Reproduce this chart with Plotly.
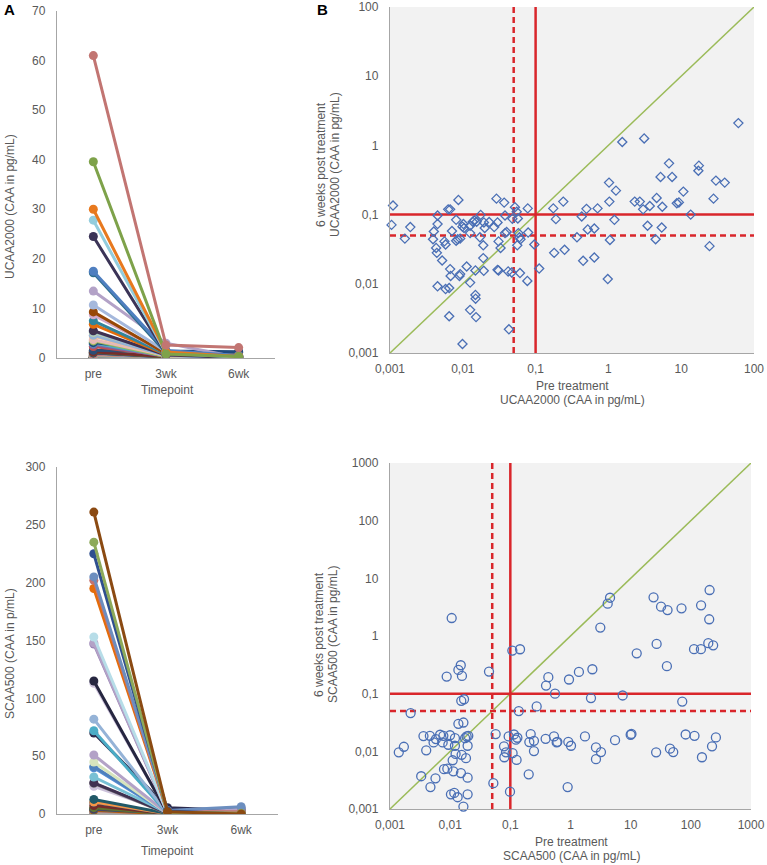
import plotly.graph_objects as go

# ---- data ----
timepoints = ["pre", "3wk", "6wk"]

# UCAA2000, one value per subject (sorted by pre-treatment value)
ucaa_pre = [61.0, 39.6, 30.0, 27.8, 24.5, 17.5, 17.2, 13.5, 10.7, 9.3,
            8.7, 7.5, 6.8, 5.5, 5.4, 5.2, 4.6, 4.45, 3.7, 3.45,
            3.1, 3.0, 2.7, 2.3, 1.55, 1.27, 1.21, 1.05, 1.03, 1.02,
            0.98, 0.71, 0.64, 0.64, 0.52, 0.50, 0.45, 0.43, 0.37, 0.25,
            0.24, 0.19, 0.18, 0.175, 0.112, 0.096, 0.079, 0.078, 0.077, 0.062,
            0.061, 0.060, 0.058, 0.057, 0.056, 0.055, 0.052, 0.048, 0.047, 0.043,
            0.042, 0.040, 0.038, 0.038, 0.037, 0.033, 0.031, 0.031, 0.030, 0.030,
            0.029, 0.027, 0.023, 0.020, 0.0195, 0.0194, 0.0191, 0.0191, 0.0176, 0.0172,
            0.0155, 0.0152, 0.0150, 0.0149, 0.0149, 0.0144, 0.0137, 0.0126, 0.0126, 0.0126,
            0.0126, 0.0113, 0.0104, 0.0102, 0.0099, 0.0099, 0.0092, 0.0092, 0.0090, 0.0087,
            0.0085, 0.0081, 0.0081, 0.0071, 0.0068, 0.0067, 0.0067, 0.0065, 0.0065, 0.0063,
            0.0058, 0.0058, 0.0056, 0.0052, 0.0045, 0.0045, 0.0045, 0.0044, 0.0043, 0.0040,
            0.0039, 0.0019, 0.0016, 0.0011, 0.00105]
ucaa_3wk = [2.6, 0.8, 1.2, 1.0, 0.9, 1.5, 1.1, 3.0, 1.3, 0.9,
            1.0, 0.8, 0.7, 0.6, 0.5, 0.7, 0.5, 0.4, 0.5, 0.3,
            1.4, 0.4, 0.3, 0.5, 1.2, 0.3, 0.2, 0.2, 0.3, 0.4,
            0.1, 0.2, 0.15, 0.1, 0.12, 0.2, 0.08, 0.15, 0.1, 0.06,
            0.2, 0.1, 0.05, 0.15, 0.04, 0.05, 0.06, 0.1, 0.03, 0.05,
            0.03, 0.05, 0.05, 0.07, 0.04, 0.08, 0.09, 0.06, 0.02, 0.01,
            0.02, 0.05, 0.07, 0.04, 0.1, 0.03, 0.04, 0.02, 0.05, 0.02,
            0.1, 0.05, 0.05, 0.04, 0.05, 0.02, 0.03, 0.02, 0.06, 0.03,
            0.05, 0.005, 0.008, 0.015, 0.008, 0.05, 0.05, 0.03, 0.04, 0.01,
            0.005, 0.015, 0.04, 0.05, 0.04, 0.003, 0.03, 0.01, 0.01, 0.08,
            0.03, 0.05, 0.03, 0.04, 0.01, 0.07, 0.01, 0.008, 0.004, 0.07,
            0.008, 0.03, 0.03, 0.015, 0.06, 0.05, 0.008, 0.02, 0.02, 0.04,
            0.03, 0.04, 0.03, 0.08, 0.05]
ucaa_6wk = [2.1, 0.29, 0.31, 0.17, 0.035, 0.51, 0.43, 0.10, 0.215, 0.15,
            0.146, 0.35, 0.55, 0.13, 0.065, 0.35, 0.174, 0.044, 0.133, 0.069,
            1.26, 0.119, 0.154, 0.154, 1.12, 0.222, 0.084, 0.043, 0.154, 0.29,
            0.0117, 0.123, 0.063, 0.024, 0.061, 0.121, 0.0215, 0.094, 0.047, 0.031,
            0.154, 0.086, 0.028, 0.123, 0.0166, 0.037, 0.055, 0.123, 0.011, 0.044,
            0.0143, 0.047, 0.054, 0.088, 0.036, 0.110, 0.128, 0.087, 0.0146, 0.0022,
            0.0151, 0.056, 0.097, 0.054, 0.149, 0.033, 0.041, 0.0156, 0.077, 0.0159,
            0.170, 0.066, 0.078, 0.064, 0.077, 0.0154, 0.036, 0.0235, 0.099, 0.047,
            0.079, 0.0033, 0.0061, 0.0156, 0.0069, 0.082, 0.079, 0.054, 0.069, 0.0104,
            0.0042, 0.0178, 0.064, 0.073, 0.067, 0.00135, 0.045, 0.0138, 0.0130, 0.163,
            0.044, 0.084, 0.042, 0.058, 0.0130, 0.119, 0.0163, 0.0087, 0.0034, 0.119,
            0.0084, 0.037, 0.041, 0.0217, 0.097, 0.073, 0.0092, 0.028, 0.033, 0.057,
            0.044, 0.066, 0.045, 0.135, 0.071]

# SCAA500
scaa_pre = [261, 235, 225, 205, 202, 195, 153, 148, 147, 115,
            113, 82, 72, 70, 51, 45, 41, 40, 32, 27,
            26.5, 24, 12.6, 10.3, 10.0, 7.36, 5.5, 4.54, 4.15, 3.21,
            3.13, 2.65, 2.65, 2.31, 2.19, 1.74, 1.38, 1.02, 0.944, 0.920,
            0.897, 0.604, 0.589, 0.553, 0.532, 0.428, 0.392, 0.386, 0.274, 0.247,
            0.247, 0.218, 0.207, 0.202, 0.145, 0.138, 0.131, 0.127, 0.124, 0.115,
            0.109, 0.108, 0.0987, 0.0938, 0.0847, 0.0795, 0.0785, 0.057, 0.0522, 0.0442,
            0.0200, 0.0195, 0.0195, 0.0195, 0.0188, 0.0183, 0.0177, 0.0170, 0.0166, 0.0166,
            0.0157, 0.0155, 0.0153, 0.0151, 0.0150, 0.0137, 0.0137, 0.0133, 0.0123, 0.0120,
            0.0120, 0.0117, 0.0113, 0.0110, 0.0106, 0.0103, 0.00994, 0.00933, 0.00897, 0.00875,
            0.0079, 0.0077, 0.0075, 0.0068, 0.0058, 0.0057, 0.0053, 0.0047, 0.0046, 0.0040,
            0.0036, 0.0033, 0.0022, 0.0017, 0.0014]
scaa_3wk = [2.0, 1.5, 2.5, 3.0, 2.0, 1.8, 1.0, 1.2, 0.8, 0.7,
            1.0, 0.6, 0.5, 5.5, 0.4, 0.5, 1.5, 0.6, 1.0, 0.8,
            0.3, 2.0, 0.5, 0.3, 0.3, 0.2, 0.2, 1.0, 0.8, 0.1,
            0.6, 0.1, 0.1, 0.2, 0.1, 0.1, 0.2, 0.05, 0.1, 0.05,
            0.03, 0.05, 0.05, 0.1, 0.04, 0.1, 0.1, 0.03, 0.05, 0.03,
            0.02, 0.04, 0.03, 0.01, 0.2, 0.05, 0.02, 0.01, 0.02, 0.03,
            0.01, 0.2, 0.005, 0.02, 0.01, 0.01, 0.01, 0.02, 0.005, 0.08,
            0.02, 0.01, 0.003, 0.004, 0.02, 0.008, 0.01, 0.03, 0.002, 0.02,
            0.05, 0.01, 0.03, 0.005, 0.06, 0.05, 0.02, 0.002, 0.01, 0.01,
            0.01, 0.002, 0.005, 0.008, 0.3, 0.002, 0.01, 0.01, 0.005, 0.05,
            0.005, 0.01, 0.01, 0.01, 0.01, 0.003, 0.01, 0.003, 0.01, 0.005,
            0.01, 0.003, 0.02, 0.005, 0.005]
scaa_6wk = [0.0174, 0.69, 0.0122, 6.27, 1.95, 0.75, 0.0079, 3.40, 0.59, 0.0186,
            0.59, 0.0196, 0.073, 3.02, 0.0097, 0.0111, 2.82, 0.30, 3.22, 0.73,
            0.0096, 4.68, 0.50, 0.020, 0.0194, 0.093, 0.0156, 4.61, 3.63, 0.0097,
            1.40, 0.0117, 0.0073, 0.265, 0.084, 0.0181, 0.238, 0.0125, 0.176, 0.0146,
            0.0024, 0.0146, 0.0143, 0.100, 0.0181, 0.193, 0.138, 0.0165, 0.060, 0.0152,
            0.0101, 0.0199, 0.0145, 0.0040, 0.589, 0.050, 0.0172, 0.0071, 0.0159, 0.0196,
            0.0093, 0.558, 0.0020, 0.0181, 0.0096, 0.0079, 0.0122, 0.0199, 0.0028, 0.242,
            0.0186, 0.0125, 0.0018, 0.0035, 0.0181, 0.0076, 0.0169, 0.080, 0.0011, 0.0316,
            0.203, 0.0087, 0.075, 0.0042, 0.311, 0.258, 0.030, 0.0016, 0.0090, 0.0125,
            0.0169, 0.0019, 0.0045, 0.0070, 2.05, 0.0018, 0.0190, 0.0130, 0.0050, 0.198,
            0.0049, 0.0186, 0.0143, 0.0194, 0.0163, 0.0034, 0.0143, 0.0024, 0.0186, 0.0104,
            0.0184, 0.0037, 0.046, 0.0120, 0.0096]

ucaa_limits = [0.001, 100]
scaa_limits = [0.001, 1000]
cutoff_solid = 0.1
cutoff_dash = 0.05
log_tickvals = [0.001, 0.01, 0.1, 1, 10, 100, 1000]
log_ticktext = ["0,001", "0,01", "0,1", "1", "10", "100", "1000"]

# ---- styling ----
W, H = 767, 865
FONT = "Liberation Sans, Arial, sans-serif"
GREY_TXT = "#595959"
AXIS_COL = "#A6A6A6"
RED = "#D9262B"
MARK_COL = "#4A6FB5"

# colours of the most visible (highest) lines, then a cycling Excel-like palette
ucaa_top_colors = ["#C27572", "#7EA24A", "#E8791E", "#93CDDD", "#3B3457", "#4F7FC0",
                   "#2E6E8E", "#B3A2C7", "#A5B8DC", "#984807", "#D3A9C9", "#31859C",
                   "#E46C0A", "#3F3151", "#8EB4E3", "#C3D69B", "#95B3D7", "#FAC090",
                   "#E6B9B8", "#9BBB59", "#1F497D", "#4BACC6", "#8064A2", "#C0504D"]
scaa_top_colors = ["#8B4A12", "#8DAA5A", "#2F4F8F", "#6C8EBF", "#C47370", "#E46C0A",
                   "#B7DDE8", "#B3A2C7", "#9983B5", "#262640", "#CCC1DA", "#95B3D7",
                   "#4BACC6", "#2B2A4C", "#B3A2C7", "#D7E4BD", "#4F81BD", "#558ED5",
                   "#78C0D4", "#403151", "#7F7F7F", "#CCC1DA", "#215967", "#F79646"]
base_palette = ["#4F81BD", "#C0504D", "#9BBB59", "#8064A2", "#4BACC6", "#F79646",
                "#2C4D75", "#772C2A", "#5F7530", "#4D3B62", "#276A7C", "#B65708",
                "#729ACA", "#CD7371", "#AFC97A", "#9983B5", "#6FBDD1", "#F9AA6B"]


def color_for(i, top):
    if i < len(top):
        return top[i]
    return base_palette[i % len(base_palette)]


def dom_x(a, b):
    return [a / W, b / W]


def dom_y(top, bottom):
    return [1 - bottom / H, 1 - top / H]


fig = go.Figure()


def add_lines(pre, w3, w6, top_colors, xa, ya):
    # draw smallest first so the big lines end up on top
    for i in reversed(range(len(pre))):
        c = color_for(i, top_colors)
        fig.add_trace(go.Scatter(
            x=timepoints, y=[pre[i], w3[i], w6[i]],
            mode="lines+markers",
            line=dict(color=c, width=3),
            marker=dict(color=c, size=9),
            xaxis=xa, yaxis=ya, showlegend=False, hoverinfo="skip"))


def add_scatter(pre, post, limits, symbol, size, xa, ya):
    # identity line
    fig.add_trace(go.Scatter(x=limits, y=limits, mode="lines",
                             line=dict(color="#9BBB59", width=1.5),
                             xaxis=xa, yaxis=ya, showlegend=False, hoverinfo="skip"))
    # cut-off lines
    for val, dash in [(cutoff_solid, "solid"), (cutoff_dash, "6px,4px")]:
        fig.add_trace(go.Scatter(x=[val, val], y=limits, mode="lines",
                                 line=dict(color=RED, width=2.5, dash=dash),
                                 xaxis=xa, yaxis=ya, showlegend=False, hoverinfo="skip"))
        fig.add_trace(go.Scatter(x=limits, y=[val, val], mode="lines",
                                 line=dict(color=RED, width=2.5, dash=dash),
                                 xaxis=xa, yaxis=ya, showlegend=False, hoverinfo="skip"))
    fig.add_trace(go.Scatter(x=pre, y=post, mode="markers",
                             marker=dict(symbol=symbol, size=size, color=MARK_COL,
                                         line=dict(width=1.3, color=MARK_COL)),
                             xaxis=xa, yaxis=ya, showlegend=False, cliponaxis=False))


add_lines(ucaa_pre, ucaa_3wk, ucaa_6wk, ucaa_top_colors, "x", "y")
add_scatter(ucaa_pre, ucaa_6wk, ucaa_limits, "diamond-open", 7, "x2", "y2")
add_lines(scaa_pre, scaa_3wk, scaa_6wk, scaa_top_colors, "x3", "y3")
add_scatter(scaa_pre, scaa_6wk, scaa_limits, "circle-open", 9, "x4", "y4")

tick_font = dict(family=FONT, size=12, color=GREY_TXT)
line_ax = dict(showline=True, linecolor=AXIS_COL, linewidth=1.3, showgrid=False,
               zeroline=False, ticks="", tickfont=tick_font, automargin=False)

fig.update_layout(
    width=W, height=H, autosize=False,
    margin=dict(l=0, r=0, t=0, b=0),
    paper_bgcolor="white", plot_bgcolor="white",
    font=dict(family=FONT, color=GREY_TXT),
    xaxis=dict(line_ax, domain=dom_x(57, 275), type="category",
               categoryorder="array", categoryarray=timepoints,
               range=[-0.5, 2.5], anchor="y", ticklabelstandoff=4),
    yaxis=dict(line_ax, domain=dom_y(11, 358), range=[0, 70], dtick=10,
               anchor="x", ticklabelstandoff=8),
    xaxis2=dict(line_ax, domain=dom_x(390, 754), type="log",
                range=[-3, 2], tickvals=log_tickvals, ticktext=log_ticktext,
                anchor="y2", ticklabelstandoff=4),
    yaxis2=dict(line_ax, domain=dom_y(7, 353), type="log",
                range=[-3, 2], tickvals=log_tickvals, ticktext=log_ticktext,
                anchor="x2", ticklabelstandoff=8),
    xaxis3=dict(line_ax, domain=dom_x(57, 278), type="category",
                categoryorder="array", categoryarray=timepoints,
                range=[-0.5, 2.5], anchor="y3", ticklabelstandoff=4),
    yaxis3=dict(line_ax, domain=dom_y(467, 814), range=[0, 300], dtick=50,
                anchor="x3", ticklabelstandoff=8),
    xaxis4=dict(line_ax, domain=dom_x(390, 751), type="log",
                range=[-3, 3], tickvals=log_tickvals, ticktext=log_ticktext,
                anchor="y4", ticklabelstandoff=4),
    yaxis4=dict(line_ax, domain=dom_y(463, 809), type="log",
                range=[-3, 3], tickvals=log_tickvals, ticktext=log_ticktext,
                anchor="x4", ticklabelstandoff=8),
)

# grey plot area for the two scatter panels
for xa, ya in [("x2", "y2"), ("x4", "y4")]:
    fig.add_shape(type="rect", xref=f"{xa} domain", yref=f"{ya} domain",
                  x0=0, x1=1, y0=0, y1=1, fillcolor="#F2F2F2",
                  line=dict(width=0), layer="below")


def note(text, x, y, size=12, angle=0, bold=False, color=GREY_TXT, xanchor="center"):
    fig.add_annotation(text=f"<b>{text}</b>" if bold else text,
                       x=x / W, y=1 - y / H, xref="paper", yref="paper",
                       showarrow=False, textangle=angle, xanchor=xanchor,
                       yanchor="middle", font=dict(family=FONT, size=size, color=color))


note("A", 2, 10, size=15, bold=True, color="black", xanchor="left")
note("B", 315, 9, size=15, bold=True, color="black", xanchor="left")

note("UCAA2000 (CAA in pg/mL)", 10, 207, angle=-90)
note("Timepoint", 167, 390)
note("6 weeks post treatment", 321, 165, angle=-90)
note("UCAA2000 (CAA in pg/mL)", 335, 165, angle=-90)
note("Pre treatment", 572, 386)
note("UCAA2000 (CAA in pg/mL)", 572, 400)

note("SCAA500 (CAA in p/mL)", 10, 654, angle=-90)
note("Timepoint", 167, 851)
note("6 weeks post treatment", 319, 635, angle=-90)
note("SCAA500 (CAA in pg/mL)", 333, 635, angle=-90)
note("Pre treatment", 571, 842)
note("SCAA500 (CAA in pg/mL)", 571, 856)

# the page's default body margin would shift the whole figure by 8px
fig.write_html("out.html", config={"displayModeBar": False},
               post_script="document.body.style.margin='0';")
